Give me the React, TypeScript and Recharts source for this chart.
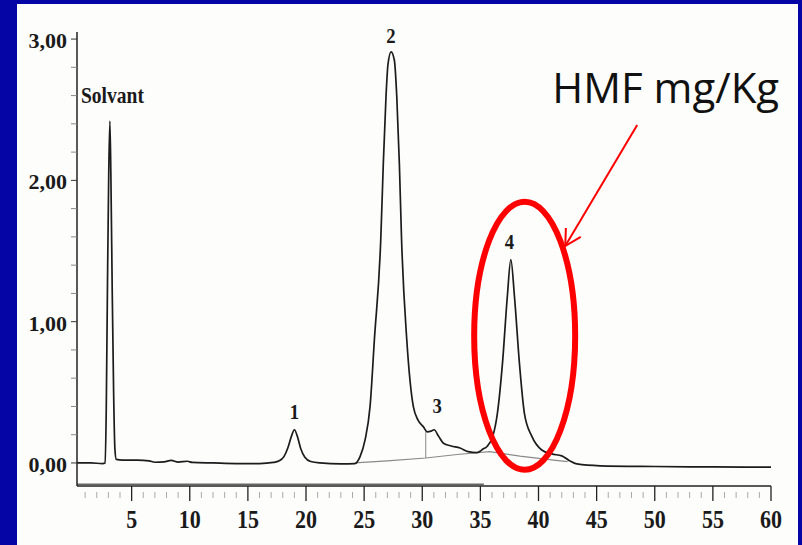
import React from 'react';
import { ComposedChart, Line, XAxis, YAxis, ReferenceLine, ReferenceDot } from 'recharts';

// Chromatogram trace (retention time in min, absorbance)
const time = [
  0.3, 1.5, 2.5, 2.72, 2.82, 2.92, 3.03, 3.13, 3.22, 3.33, 3.45, 3.56, 3.68, 4.2, 5.5,
  6.5, 7.0, 7.8, 8.4, 9.0, 9.8, 10.2, 12.0, 14.0, 16.0, 17.2, 17.7, 18.1, 18.45, 18.75,
  19.0, 19.25, 19.55, 19.9, 20.4, 21.2, 23.0, 24.2, 24.65, 25.08, 25.51, 25.88, 26.43, 26.65, 26.88,
  27.05, 27.32, 27.6, 27.81, 28.03, 28.22, 28.67, 29.23, 29.66, 30.09, 30.44, 30.75, 31.02, 31.4, 31.82,
  32.5, 33.25, 33.94, 34.69, 35.26, 35.55, 36.07, 36.46, 36.9, 37.32, 37.62, 37.93, 38.36, 38.79, 39.42,
  40.28, 41.14, 42.0, 42.6, 43.3, 45.3, 50, 55, 60,
];
const signal = [
  0.0, 0.0, -0.004, 0.0, 0.4, 1.25, 2.05, 2.42, 2.0, 1.22, 0.5, 0.1, 0.025, 0.02, 0.02,
  0.015, 0.005, 0.008, 0.018, 0.006, 0.012, 0.004, 0.0, -0.004, -0.004, 0.004, 0.015, 0.045, 0.11, 0.19,
  0.235, 0.19, 0.1, 0.04, 0.01, 0.0, -0.006, -0.004, 0.045, 0.163, 0.4, 0.87, 1.58, 2.12, 2.59,
  2.82, 2.91, 2.85, 2.59, 2.12, 1.58, 0.87, 0.4, 0.3, 0.257, 0.22, 0.225, 0.235, 0.19, 0.14,
  0.12, 0.106, 0.08, 0.073, 0.1, 0.115, 0.19, 0.35, 0.705, 1.18, 1.44, 1.18, 0.705, 0.35, 0.19,
  0.092, 0.064, 0.05, 0.02, -0.007, -0.02, -0.025, -0.028, -0.03,
];

// integration baseline under peaks 2-4
const baseTime = [24.2, 27.0, 30.3, 33.0, 35.8, 38.4, 41.3, 42.5];
const baseSignal = [0.0, 0.015, 0.035, 0.06, 0.08, 0.048, 0.02, 0.01];

const xMajorTicks = [5, 10, 15, 20, 25, 30, 35, 40, 45, 50, 55, 60];
const xMinorTicks = [
  1, 2, 3, 4, 6, 7, 8, 9, 11, 12, 13, 14, 16, 17, 18, 19, 21, 22, 23, 24, 26, 27, 28, 29,
  31, 32, 33, 34, 36, 37, 38, 39, 41, 42, 43, 44, 46, 47, 48, 49, 51, 52, 53, 54, 56, 57, 58, 59,
];
const yTicks = [0, 0.2, 0.4, 0.6, 0.8, 1, 1.2, 1.4, 1.6, 1.8, 2, 2.2, 2.4, 2.6, 2.8, 3];

const peakNames = ['Solvant', '1', '2', '3', '4'];
const peakTimes = [0.64, 19.0, 27.3, 31.28, 37.5];
const peakLabelLevels = [2.547, 0.311, 2.97, 0.356, 1.512];

const chromData = time.map((t, i) => ({ t, a: signal[i] }));
const baseData = baseTime.map((t, i) => ({ t, a: baseSignal[i] }));

const SERIF = '"Liberation Serif", "Times New Roman", serif';

const YTick = (props: any) => {
  const { x, y, payload } = props;
  const v = payload.value as number;
  const major = Math.abs(v - Math.round(v)) < 1e-6;
  return (
    <g>
      <line x1={x - 6} x2={x} y1={y} y2={y} stroke={major ? '#333' : '#888'} strokeWidth={1} />
      {major && (
        <text x={x - 10} y={y + 9} textAnchor="end" fontFamily={SERIF} fontWeight="bold" fontSize={22} fill="#1a1a1a">
          {v.toFixed(2).replace('.', ',')}
        </text>
      )}
    </g>
  );
};

const XTick = (props: any) => {
  const { x, y, payload } = props;
  const v = payload.value as number;
  if (v % 5 !== 0) {
    return <line x1={x} x2={x} y1={y + 6} y2={y + 12} stroke="#aaa" strokeWidth={1} />;
  }
  return (
    <g>
      <line x1={x} x2={x} y1={y} y2={y + 15} stroke="#222" strokeWidth={1.3} />
      <text transform={`translate(${x},${y + 42}) scale(0.88,1)`} textAnchor="middle" fontFamily={SERIF} fontWeight="bold" fontSize={25} fill="#1a1a1a">
        {v}
      </text>
    </g>
  );
};

export default function App() {
  return (
    <div style={{ position: 'absolute', left: 0, top: 0, width: 802, height: 545, background: '#0505a5', overflow: 'hidden' }}>
      <div style={{ position: 'absolute', left: 17, top: 4, width: 781, height: 541, background: '#fdfdfb' }} />
      <div style={{ position: 'absolute', left: 0, top: 0 }}>
        <ComposedChart width={802} height={545} data={chromData} margin={{ top: 32, right: 31, bottom: 0, left: 0 }}>
          <XAxis
            dataKey="t"
            type="number"
            domain={[0.3, 60]}
            allowDataOverflow
            ticks={[...xMinorTicks, ...xMajorTicks].sort((a, b) => a - b)}
            interval={0}
            tick={<XTick />}
            tickLine={false}
            tickSize={0}
            tickMargin={0}
            height={59}
            axisLine={{ stroke: '#222', strokeWidth: 1.5 }}
          />
          <YAxis
            type="number"
            domain={[-0.163, 3.05]}
            allowDataOverflow
            ticks={yTicks}
            interval={0}
            tick={<YTick />}
            tickLine={false}
            tickSize={0}
            tickMargin={0}
            width={77}
            axisLine={{ stroke: '#222', strokeWidth: 1.5 }}
          />
          <ReferenceLine segment={[{ x: 0.3, y: -0.15 }, { x: 35.3, y: -0.15 }]} stroke="#666" strokeWidth={1.5} />
          <Line data={baseData} dataKey="a" type="linear" stroke="#8a8a8a" strokeWidth={1.2} dot={false} isAnimationActive={false} />
          <ReferenceLine segment={[{ x: 30.3, y: 0.035 }, { x: 30.3, y: 0.225 }]} stroke="#8a8a8a" strokeWidth={1} />
          <Line dataKey="a" type="monotone" stroke="#1c1c1c" strokeWidth={1.7} dot={false} isAnimationActive={false} />
          {peakNames.map((name, i) => (
            <ReferenceDot
              key={name}
              x={peakTimes[i]}
              y={peakLabelLevels[i]}
              shape={(p: any) => (
                <text
                  transform={`translate(${p.cx},${p.cy}) scale(0.85,1)`}
                  textAnchor={i === 0 ? 'start' : 'middle'}
                  fontFamily={SERIF}
                  fontWeight="bold"
                  fontSize={i === 0 ? 23 : 22}
                  fill="#1a1a1a"
                >
                  {name}
                </text>
              )}
            />
          ))}
          <ReferenceDot
            x={38.81}
            y={0.9}
            shape={(p: any) => (
              <ellipse cx={p.cx} cy={p.cy} rx={50.5} ry={134} fill="none" stroke="#ff0000" strokeWidth={6} />
            )}
          />
          <ReferenceLine
            segment={[{ x: 48.49, y: 2.392 }, { x: 42.3, y: 1.535 }]}
            shape={(p: any) => {
              const { x1, y1, x2, y2 } = p;
              const ang = Math.atan2(y2 - y1, x2 - x1);
              const len = 18;
              const spread = 0.5;
              const ax = x2 - len * Math.cos(ang - spread);
              const ay = y2 - len * Math.sin(ang - spread);
              const bx = x2 - len * Math.cos(ang + spread);
              const by = y2 - len * Math.sin(ang + spread);
              return (
                <g stroke="#ff0000" strokeWidth={2} fill="none">
                  <line x1={x1} y1={y1} x2={x2} y2={y2} />
                  <polyline points={`${ax},${ay} ${x2},${y2} ${bx},${by}`} />
                </g>
              );
            }}
          />
          <ReferenceDot
            x={41.18}
            y={2.547}
            shape={(p: any) => (
              <text x={p.cx} y={p.cy} textAnchor="start" fontFamily='"Open Sans", sans-serif' fontSize={42} fill="#111">
                HMF mg/Kg
              </text>
            )}
          />
        </ComposedChart>
      </div>
    </div>
  );
}
